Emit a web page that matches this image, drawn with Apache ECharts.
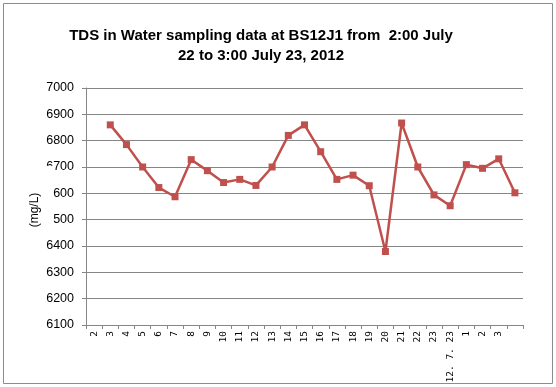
<!DOCTYPE html>
<html>
<head>
<meta charset="utf-8">
<script src="https://cdn.jsdelivr.net/npm/echarts@6/dist/echarts.min.js"></script>
<style>
html,body{margin:0;padding:0;background:#fff;}
#c{width:556px;height:387px;}
</style>
</head>
<body>
<div id="c"></div>
<script>
var titleText = 'TDS in Water sampling data at BS12J1 from  2:00 July\n22 to 3:00 July 23, 2012';
var categories = ['2','3','4','5','6','7','8','9','10','11','12','13','14','15','16','17','18','19','20','21','22','23','12. 7. 23','1','2','3',''];
var tdsValues = [null,6860,6785,6700,6622,6587,6728,6686,6641,6653,6630,6700,6820,6860,6758,6653,6669,6629,6379,6867,6700,6594,6553,6709,6695,6731,6602];
var yTicks = {min:6100, max:7000, interval:100};
var yName = '(mg/L)';

var chart = echarts.init(document.getElementById('c'));
chart.setOption({
  animation:false,
  backgroundColor:'#fff',
  graphic:[
    {type:'rect', shape:{x:3.5,y:3.5,width:549,height:380}, style:{fill:null, stroke:'#8c8c8c', lineWidth:1}, z:-1},
    {type:'text', x:34.5, y:199, rotation:Math.PI/2, z:100,
     style:{text:yName, align:'center', verticalAlign:'middle', fill:'#000',
            font:'12px "Liberation Sans", Arial', backgroundColor:'#fff', padding:[5,27,20,5]}}
  ],
  title:{
    text:titleText, left:256, top:21, textAlign:'center',
    textStyle:{fontFamily:'Liberation Sans, Arial', fontSize:15, fontWeight:'bold', color:'#000', lineHeight:20}
  },
  grid:{left:86, right:33, top:88, bottom:62, containLabel:false},
  xAxis:{
    type:'category', data:categories, boundaryGap:true,
    axisLine:{lineStyle:{color:'#868686', width:1}},
    axisTick:{show:true, length:4, alignWithLabel:false, lineStyle:{color:'#868686'}},
    axisLabel:{interval:0, rotate:90, margin:6, fontFamily:'DejaVu Sans Mono', fontSize:9.5, color:'#000'}
  },
  yAxis:{
    type:'value', min:yTicks.min, max:yTicks.max, interval:yTicks.interval,
    axisLine:{show:true, lineStyle:{color:'#868686'}},
    axisTick:{show:true, length:4, lineStyle:{color:'#868686'}},
    axisLabel:{margin:12, fontFamily:'Liberation Sans, Arial', fontSize:12.5, color:'#000',
               formatter:function(v){return String(v);}},
    splitLine:{show:true, lineStyle:{color:'#868686', width:1}}
  },
  series:[{
    type:'line', data:tdsValues, connectNulls:false,
    symbol:'rect', symbolSize:7,
    lineStyle:{color:'#C0504D', width:2.5},
    itemStyle:{color:'#C0504D'}
  }]
});
</script>
</body>
</html>
